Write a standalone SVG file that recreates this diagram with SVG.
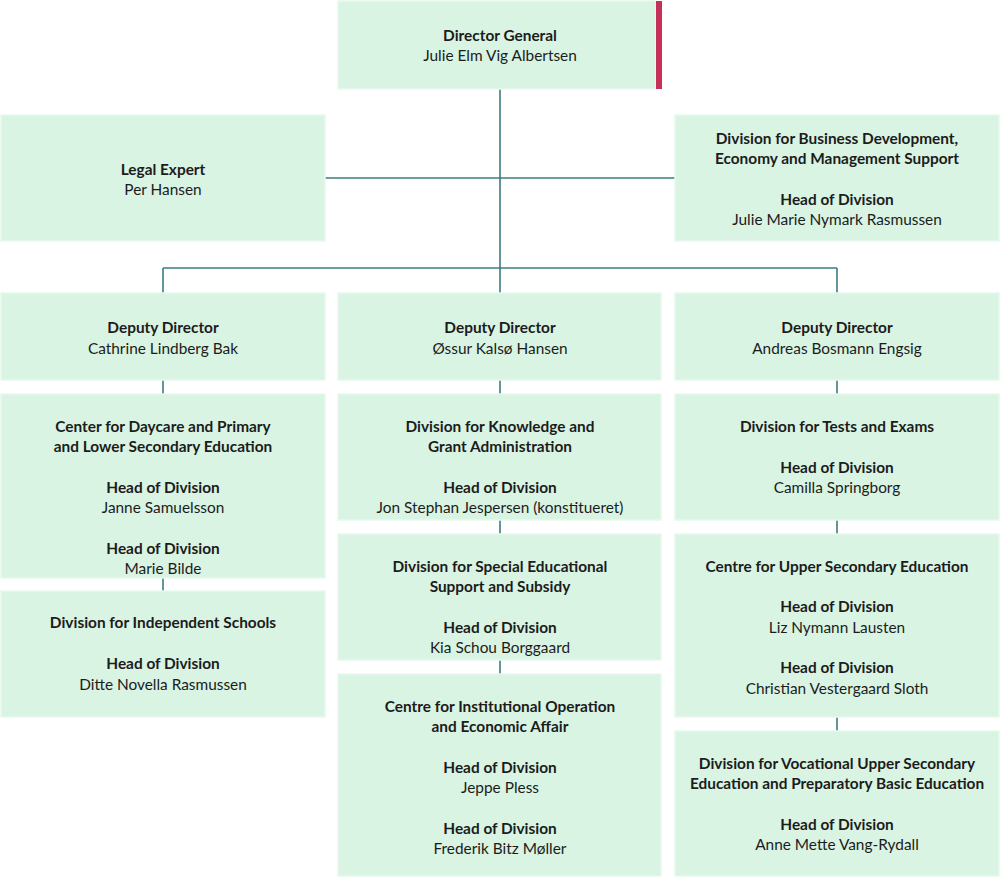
<svg xmlns="http://www.w3.org/2000/svg" width="1000" height="877" viewBox="0 0 1000 877">
<style>
.box{fill:#d9f4e3;stroke:#e6f9ed;stroke-width:1.5}
.con{stroke:#3e7c82;stroke-width:1.6;fill:none}
text{font-family:Lato,"Open Sans","Liberation Sans",sans-serif;font-size:15.4px;fill:#1c1c1c;text-anchor:middle}
.b{font-weight:bold}
</style>
<rect width="1000" height="877" fill="#ffffff"/>
<g id="connectors">
<path class="con" d="M500 89V268M325 178H675M163 268H837M163 268V293M837 268V293M500 268V293"/>
<path class="con" d="M163 380V394M163 578V591M500 380V394M500 520V534M500 660V674M837 380V394M837 520V534M837 717V731"/>
</g>
<g id="director-general">
<rect class="box" x="338" y="1" width="318" height="88"/>
<rect x="656" y="1" width="6" height="88" fill="#c4305a"/>
<text class="b" x="500" y="41">Director General</text>
<text x="500" y="61">Julie Elm Vig Albertsen</text>
</g>
<g id="legal-expert">
<rect class="box" x="1" y="115" width="324" height="126"/>
<text class="b" x="163" y="175">Legal Expert</text>
<text x="163" y="195">Per Hansen</text>
</g>
<g id="business-development">
<rect class="box" x="675" y="115" width="324" height="126"/>
<text class="b" x="837" y="144">Division for Business Development,</text>
<text class="b" x="837" y="164">Economy and Management Support</text>
<text class="b" x="837" y="205">Head of Division</text>
<text x="837" y="225">Julie Marie Nymark Rasmussen</text>
</g>
<g id="deputy-1">
<rect class="box" x="1" y="293" width="324" height="87"/>
<text class="b" x="163" y="333">Deputy Director</text>
<text x="163" y="354">Cathrine Lindberg Bak</text>
</g>
<g id="deputy-2">
<rect class="box" x="338" y="293" width="323" height="87"/>
<text class="b" x="500" y="333">Deputy Director</text>
<text x="500" y="354">Øssur Kalsø Hansen</text>
</g>
<g id="deputy-3">
<rect class="box" x="675" y="293" width="324" height="87"/>
<text class="b" x="837" y="333">Deputy Director</text>
<text x="837" y="354">Andreas Bosmann Engsig</text>
</g>
<g id="daycare-center">
<rect class="box" x="1" y="394" width="324" height="184"/>
<text class="b" x="163" y="432">Center for Daycare and Primary</text>
<text class="b" x="163" y="452">and Lower Secondary Education</text>
<text class="b" x="163" y="493">Head of Division</text>
<text x="163" y="513">Janne Samuelsson</text>
<text class="b" x="163" y="554">Head of Division</text>
<text x="163" y="574">Marie Bilde</text>
</g>
<g id="independent-schools">
<rect class="box" x="1" y="591" width="324" height="126"/>
<text class="b" x="163" y="628">Division for Independent Schools</text>
<text class="b" x="163" y="669">Head of Division</text>
<text x="163" y="690">Ditte Novella Rasmussen</text>
</g>
<g id="knowledge-grant">
<rect class="box" x="338" y="394" width="323" height="126"/>
<text class="b" x="500" y="432">Division for Knowledge and</text>
<text class="b" x="500" y="452">Grant Administration</text>
<text class="b" x="500" y="493">Head of Division</text>
<text x="500" y="513">Jon Stephan Jespersen (konstitueret)</text>
</g>
<g id="special-support">
<rect class="box" x="338" y="534" width="323" height="126"/>
<text class="b" x="500" y="572">Division for Special Educational</text>
<text class="b" x="500" y="592">Support and Subsidy</text>
<text class="b" x="500" y="633">Head of Division</text>
<text x="500" y="653">Kia Schou Borggaard</text>
</g>
<g id="institutional-operation">
<rect class="box" x="338" y="674" width="323" height="202"/>
<text class="b" x="500" y="712">Centre for Institutional Operation</text>
<text class="b" x="500" y="732">and Economic Affair</text>
<text class="b" x="500" y="773">Head of Division</text>
<text x="500" y="793">Jeppe Pless</text>
<text class="b" x="500" y="834">Head of Division</text>
<text x="500" y="854">Frederik Bitz Møller</text>
</g>
<g id="tests-exams">
<rect class="box" x="675" y="394" width="324" height="126"/>
<text class="b" x="837" y="432">Division for Tests and Exams</text>
<text class="b" x="837" y="473">Head of Division</text>
<text x="837" y="493">Camilla Springborg</text>
</g>
<g id="upper-secondary">
<rect class="box" x="675" y="534" width="324" height="183"/>
<text class="b" x="837" y="572">Centre for Upper Secondary Education</text>
<text class="b" x="837" y="612">Head of Division</text>
<text x="837" y="633">Liz Nymann Lausten</text>
<text class="b" x="837" y="673">Head of Division</text>
<text x="837" y="694">Christian Vestergaard Sloth</text>
</g>
<g id="vocational">
<rect class="box" x="675" y="731" width="324" height="145"/>
<text class="b" x="837" y="769">Division for Vocational Upper Secondary</text>
<text class="b" x="837" y="789">Education and Preparatory Basic Education</text>
<text class="b" x="837" y="830">Head of Division</text>
<text x="837" y="850">Anne Mette Vang-Rydall</text>
</g>
</svg>
